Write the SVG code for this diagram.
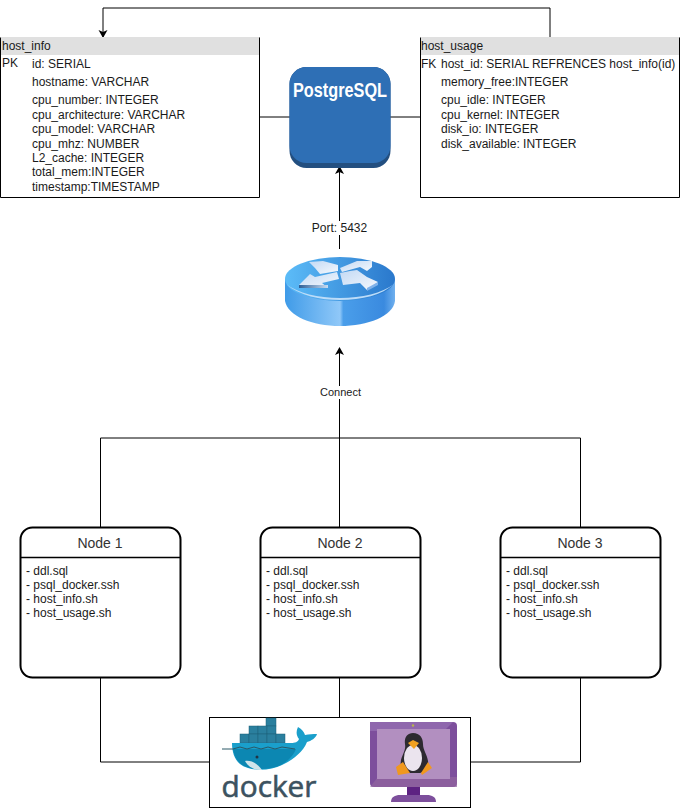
<svg xmlns="http://www.w3.org/2000/svg" width="681" height="808" viewBox="0 0 681 808">
<style>
text{font-family:"Liberation Sans",Arial,sans-serif;font-size:12px;fill:#1a1a1a}
.c{fill:none;stroke:#000;stroke-width:1}
.box{fill:none;stroke:#000;stroke-width:1}
.bg{fill:#fff}
.hd{fill:#e0e0e0}
.n{fill:#fff;stroke:#000;stroke-width:2}
.m{text-anchor:middle}
.t{font-size:14px;fill:#333}
.s{font-size:11px}
.ct{fill:#2a7f9e;stroke:#1c5f78;stroke-width:.5}
</style>
<defs>
<marker id="a" markerWidth="9" markerHeight="10" refX="7" refY="4.5" orient="auto" markerUnits="userSpaceOnUse"><path d="M0 0L8 4.5L0 9L2 4.5Z" fill="#000"/></marker>
<linearGradient id="rtop" x1="0" x2="1" y1="0" y2="0"><stop offset="0" stop-color="#5cbcf8"/><stop offset="1" stop-color="#2a78cc"/></linearGradient>
<linearGradient id="rside" x1="0" x2="1" y1="0" y2="0"><stop offset="0" stop-color="#3f9be8"/><stop offset=".5" stop-color="#90c8f8"/><stop offset=".53" stop-color="#4a9eea"/><stop offset=".9" stop-color="#3a8adf"/><stop offset="1" stop-color="#70b0ee"/></linearGradient>
<linearGradient id="ar" x1="0" x2="1" y1="0" y2="1"><stop offset="0" stop-color="#c2d9f4"/><stop offset="1" stop-color="#f6f9fd"/></linearGradient>
<linearGradient id="ed" x1="0" x2="1" y1="0" y2="0"><stop offset="0" stop-color="#2f5f96"/><stop offset="1" stop-color="#c8dcf2"/></linearGradient>
</defs>
<g id="connectors">
<path class="c" d="M550 37V8H103V37" marker-end="url(#a)"/>
<path class="c" d="M260 117H290M390 117H420"/>
<path class="c" d="M339.500 249V167" marker-end="url(#a)"/>
<path class="c" d="M339.500 438V348" marker-end="url(#a)"/>
<path class="c" d="M100.500 527V438H580.500V527M339.500 438V527"/>
<path class="c" d="M100.500 677V762H209M339.500 677V717M580.500 677V762H471"/>
</g>
<g id="host_info">
<rect class="bg" x="0.500" y="37.500" width="259" height="160"/>
<rect class="hd" x="1" y="37" width="259" height="18"/>
<path class="box" d="M0.500 37.500V197.500H259.500V37.500"/>
<text x="2" y="50">host_info</text>
<text x="2" y="67">PK</text>
<text x="32" y="68">id: SERIAL</text>
<text x="32" y="86">hostname: VARCHAR</text>
<text x="32" y="104">cpu_number: INTEGER</text>
<text x="32" y="119">cpu_architecture: VARCHAR</text>
<text x="32" y="133">cpu_model: VARCHAR</text>
<text x="32" y="148">cpu_mhz: NUMBER</text>
<text x="32" y="162">L2_cache: INTEGER</text>
<text x="32" y="176">total_mem:INTEGER</text>
<text x="32" y="191">timestamp:TIMESTAMP</text>
</g>
<g id="host_usage">
<rect class="bg" x="420.500" y="37.500" width="259" height="160"/>
<rect class="hd" x="421" y="37" width="259" height="18"/>
<path class="box" d="M420.500 37.500V197.500H679.500V37.500"/>
<text x="421" y="50">host_usage</text>
<text x="421" y="68">FK</text>
<text x="441" y="68">host_id: SERIAL REFRENCES host_info(id)</text>
<text x="441" y="86">memory_free:INTEGER</text>
<text x="441" y="104">cpu_idle: INTEGER</text>
<text x="441" y="119">cpu_kernel: INTEGER</text>
<text x="441" y="133">disk_io: INTEGER</text>
<text x="441" y="148">disk_available: INTEGER</text>
</g>
<g id="postgresql">
<rect x="289.500" y="67" width="101" height="101" rx="17" fill="#234f80"/>
<rect x="289.500" y="67" width="101" height="96" rx="17" fill="#2e6fb5"/>
<text x="340" y="97" class="m" style="font-size:20px;font-weight:bold;fill:#fff" textLength="94" lengthAdjust="spacingAndGlyphs">PostgreSQL</text>
</g>
<g id="router">
<path d="M285 279V301C288 316 312 326 340 326C368 326 393 316 395 301V279Z" fill="url(#rside)"/>
<ellipse cx="340" cy="279" rx="55" ry="22" fill="url(#rtop)"/>
<path d="M286 284C300 296 320 300 340 300C362 300 382 295 394 284C382 293 362 298 340 298C318 298 298 293 286 284Z" fill="#bcdcf8"/>
<path d="M309 262L323 261L338 265V271L320 274L315 268Z" fill="url(#ar)"/>
<path d="M299 285L310 274L315 277L337 272L339 279L322 283L328 288H299Z" fill="url(#ar)"/>
<path d="M299 285H328L328 288H299Z" fill="url(#ed)"/>
<path d="M340 268L357 261H372V267L367 271L360 267L342 272Z" fill="url(#ar)"/>
<path d="M340 273L350 271L357 270L367 277L378 282L367 290L360 283L343 285Z" fill="url(#ar)"/>
<path d="M378 282V285L367 291V288Z" fill="#7fb2ea"/>
</g>
<g id="label-port"><rect x="311" y="221" width="57" height="14" fill="#fff"/><text x="339.500" y="232" class="m">Port: 5432</text></g>
<g id="label-connect"><rect x="318" y="386" width="45" height="13" fill="#fff"/><text x="340.500" y="396" class="m s">Connect</text></g>
<g id="node1">
<rect class="n" x="20.500" y="527.500" width="160" height="150" rx="12"/>
<path class="c" style="stroke-width:1.500" d="M20 557.500H181"/>
<text x="100" y="548" class="m t">Node 1</text>
<text x="26" y="575">- ddl.sql</text><text x="26" y="589">- psql_docker.ssh</text><text x="26" y="603">- host_info.sh</text><text x="26" y="617">- host_usage.sh</text>
</g>
<g id="node2">
<rect class="n" x="260.500" y="527.500" width="160" height="150" rx="12"/>
<path class="c" style="stroke-width:1.500" d="M260 557.500H421"/>
<text x="340" y="548" class="m t">Node 2</text>
<text x="266" y="575">- ddl.sql</text><text x="266" y="589">- psql_docker.ssh</text><text x="266" y="603">- host_info.sh</text><text x="266" y="617">- host_usage.sh</text>
</g>
<g id="node3">
<rect class="n" x="500.500" y="527.500" width="160" height="150" rx="12"/>
<path class="c" style="stroke-width:1.500" d="M500 557.500H661"/>
<text x="580" y="548" class="m t">Node 3</text>
<text x="506" y="575">- ddl.sql</text><text x="506" y="589">- psql_docker.ssh</text><text x="506" y="603">- host_info.sh</text><text x="506" y="617">- host_usage.sh</text>
</g>
<g id="host">
<rect x="209.500" y="717.500" width="261" height="90" fill="#fff" stroke="#000"/>
<g id="docker">
<rect class="ct" x="266" y="718" width="10" height="8"/>
<rect class="ct" x="249" y="726" width="9" height="8"/><rect class="ct" x="258" y="726" width="9" height="8"/><rect class="ct" x="267" y="726" width="9" height="8"/>
<rect class="ct" x="240" y="734" width="9" height="9"/><rect class="ct" x="249" y="734" width="9" height="9"/><rect class="ct" x="258" y="734" width="9" height="9"/><rect class="ct" x="267" y="734" width="9" height="9"/><rect class="ct" x="276" y="734" width="9" height="9"/>
<path d="M232 743H291C295 743 298 742 299 739C296 735 296 731 298 727C302 729 304 732 305 735C309 734 313 734 317 734C316 738 311 741 307 742C303 752 293 760 282 765C270 771 250 772 240 764C234 759 232 751 232 743Z" fill="#1a9fcb"/>
<path d="M233 749H296C294 755 288 761 281 765C270 770 250 771 241 764C236 760 234 755 233 749Z" fill="#0c87b2"/>
<path d="M245 761C252 760 258 764 262 770C254 770 248 767 245 761Z" fill="#cfe4ea"/>
<circle cx="257" cy="757" r="1.500" fill="#234"/>
<path d="M222 749H233M233 749L240 747L247 749L254 747L261 749L268 747L275 749L282 747L295 749" fill="none" stroke="#2b5866" stroke-width="1"/>
<text x="269" y="797" class="m" style="font-family:'Open Sans',sans-serif;font-size:30px;fill:#3c5260;stroke:#3c5260;stroke-width:.6" textLength="95" lengthAdjust="spacingAndGlyphs">docker</text>
</g>
<g id="linux">
<rect x="370" y="722" width="87" height="65" rx="4" fill="#7d4f9c"/>
<path d="M444 731L453 722H370V731Z" fill="#8f67ad"/>
<path d="M378 777L370 787H457V777Z" fill="#93679f" opacity=".7"/>
<rect x="377" y="729" width="73" height="50" fill="#b28fc0"/>
<circle cx="413" cy="725.500" r="1.200" fill="#b8b64a"/>
<rect x="407" y="787" width="13" height="9" fill="#5d2282"/>
<path d="M391 802C391 797 395 795 400 795H427C432 795 436 797 436 802Z" fill="#7d4f9c"/>
<path d="M413 733C420 733 423 738 423 744C423 750 427 754 428 761C429 768 425 772 420 773H406C401 772 400 767 401 760C403 753 406 750 405 744C404 738 407 733 413 733Z" fill="#2d2a30"/>
<ellipse cx="413" cy="758" rx="9" ry="13" fill="#ebe4ee"/>
<path d="M408 743L413 740L419 743L414 749Z" fill="#f0a020"/>
<path d="M396 767L403 762L410 773L398 775Z" fill="#f0981f"/>
<path d="M421 773L428 762L432 768L422 775Z" fill="#f0981f"/>
</g>
</g>
</svg>
